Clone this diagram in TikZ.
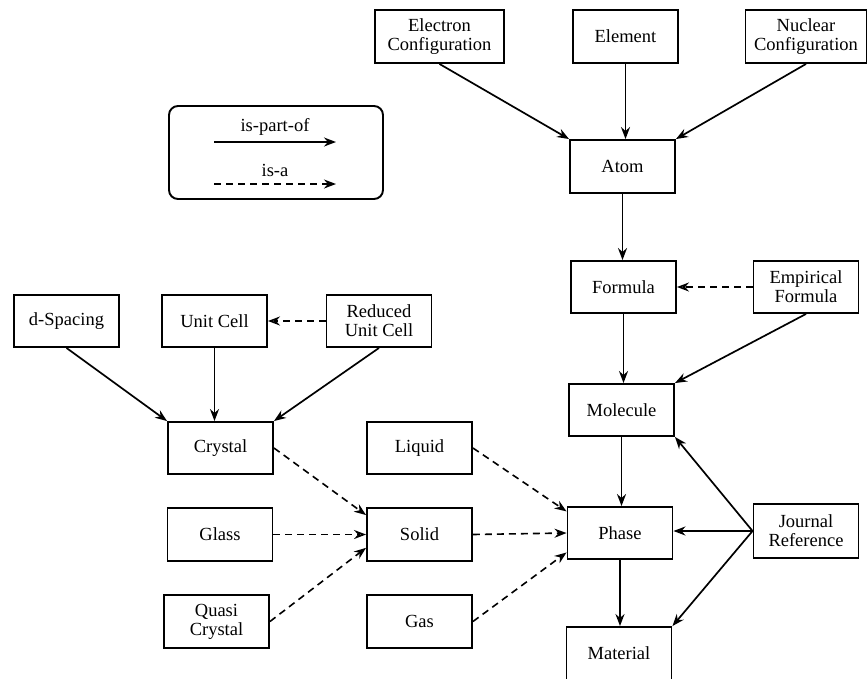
\documentclass[tikz,border=0pt]{standalone}
\usepackage{fontspec}
\setmainfont{Liberation Serif}
\usetikzlibrary{arrows.meta}
\begin{document}
\begin{tikzpicture}[x=1pt,y=-1pt,
  box/.style={draw, line width=1.9pt, minimum width=105pt, minimum height=52pt,
    align=center, inner sep=2pt, font=\fontsize{18.5}{19}\selectfont},
  lbl/.style={inner sep=1pt, font=\fontsize{18.5}{19}\selectfont},
  part/.style={line width=1.7pt, -{Stealth[length=12pt,width=9pt]}},
  thinpart/.style={part, line width=1.1pt},
  isa/.style={line width=1.6pt, dash pattern=on 7pt off 5pt, -{Stealth[length=12pt,width=9pt]}},
  isaopen/.style={isa, -{Stealth[length=12pt,width=9pt,open]}},
]
\useasboundingbox (0,0) rectangle (867,678);

% legend
\draw[line width=1.9pt, rounded corners=9pt] (169,106) rectangle (383,199);
\coordinate (l1a) at (214,142); \coordinate (l1b) at (336,142);
\coordinate (l2a) at (214,184); \coordinate (l2b) at (336,184);
\draw[part] (l1a) -- (l1b);
\draw[isa] (l2a) -- (l2b);
\node[lbl] (lt1) at (275,127) {is-part-of};
\node[lbl] (lt2) at (275,170) {is-a};

% right column
\node[box, minimum width=129pt, minimum height=53pt] (elec) at (439.5,36.5) {Electron\\Configuration};
\node[box, minimum height=53pt] (elem) at (625.5,36.5) {Element};
\node[box, minimum width=121pt, minimum height=53pt] (nucl) at (806,36.5) {Nuclear\\Configuration};
\node[box, minimum height=53pt] (atom) at (622.5,166.5) {Atom};
\node[box] (formula) at (623.5,287) {Formula};
\node[box] (empir) at (806,287) {Empirical\\Formula};
\node[box] (molec) at (621.5,410) {Molecule};
\node[box] (phase) at (620,533) {Phase};
\node[box, minimum height=54pt] (journal) at (806,531) {Journal\\Reference};
\node[box, minimum height=53pt] (material) at (619,653.5) {Material};

% left part
\node[box] (dspace) at (66.5,321) {d-Spacing};
\node[box] (ucell) at (214.5,321) {Unit Cell};
\node[box] (rucell) at (379,321) {Reduced\\Unit Cell};
\node[box] (crystal) at (220.5,448) {Crystal};
\node[box] (liquid) at (419.5,448) {Liquid};
\node[box, minimum height=53pt] (glass) at (220,534.5) {Glass};
\node[box, minimum height=53pt] (solid) at (419.5,534.5) {Solid};
\node[box, minimum height=53pt] (quasi) at (216.5,621.5) {Quasi\\Crystal};
\node[box, minimum height=53pt] (gas) at (419.5,621.5) {Gas};

% is-part-of links
\draw[part] (elec.south) -- (atom.north west);
\draw[part] (elem.south) -- (elem.south |- atom.north);
\draw[part] (nucl.south) -- (atom.north east);
\draw[part] (atom.south) -- (formula.north -| atom.south);
\draw[part] (formula.south) -- (molec.north -| formula.south);
\draw[part] (empir.south) -- (molec.north east);
\draw[part] (molec.south) -- (phase.north -| molec.south);
\draw[part] (phase.south) -- (material.north -| phase.south);
\draw[part] (journal.west) -- (molec.south east);
\draw[part] (journal.west) -- (journal.west -| phase.east);
\draw[part] (journal.west) -- (material.north east);
\draw[part] (dspace.south) -- (crystal.north west);
\draw[thinpart] (ucell.south) -- (ucell.south |- crystal.north);
\draw[part] (rucell.south) -- (crystal.north east);

% is-a links
\draw[isaopen] (rucell.west) -- (ucell.east);
\draw[isaopen] (empir.west) -- (formula.east);
\draw[isa] (crystal.east) -- (solid.160);
\draw[isaopen] (glass.east) -- (solid.west);
\draw[isa] (quasi.east) -- (solid.194);
\draw[isa] (liquid.east) -- (phase.158);
\draw[isa] (solid.east) -- (phase.west);
\draw[isa] (gas.east) -- (phase.200);
\end{tikzpicture}
\end{document}
